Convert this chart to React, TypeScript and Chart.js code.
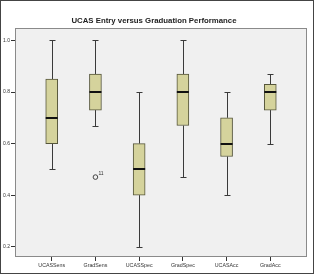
import React, { useEffect, useRef } from "react";
import { Chart, registerables } from "chart.js";

Chart.register(...registerables);

const categories = ["UCASSens", "GradSens", "UCASSpec", "GradSpec", "UCASAcc", "GradAcc"];
const whiskerLow = [0.5, 0.67, 0.2, 0.47, 0.4, 0.6];
const q1 = [0.6, 0.73, 0.4, 0.67, 0.55, 0.73];
const median = [0.7, 0.8, 0.5, 0.8, 0.6, 0.8];
const q3 = [0.85, 0.87, 0.6, 0.87, 0.7, 0.83];
const whiskerHigh = [1.0, 1.0, 0.8, 1.0, 0.8, 0.87];
const outlierCategory = [1];
const outlierValue = [0.47];
const outlierLabel = ["11"];
const yTicks = [0.2, 0.4, 0.6, 0.8, 1.0];

const FONT = "'Liberation Sans', Arial, sans-serif";

const boxPlugin = {
  id: "boxExtras",
  beforeDraw(chart: any) {
    const { ctx, chartArea: a } = chart;
    ctx.save();
    ctx.fillStyle = "#f0f0f0";
    ctx.fillRect(a.left, a.top, a.right - a.left, a.bottom - a.top);
    ctx.restore();
  },
  beforeDatasetsDraw(chart: any) {
    const { ctx, chartArea: a, scales } = chart;
    const xs = scales.x;
    const ys = scales.y;
    ctx.save();
    ctx.strokeStyle = "#8a8a8a";
    ctx.lineWidth = 1;
    ctx.strokeRect(Math.round(a.left) + 0.5, Math.round(a.top) + 0.5, Math.round(a.right - a.left) - 1, Math.round(a.bottom - a.top) - 1);
    ctx.strokeStyle = "#3a3a3a";
    categories.forEach((_, i) => {
      const x = Math.round(xs.getPixelForValue(i + 1)) + 0.5;
      const yLo = ys.getPixelForValue(whiskerLow[i]);
      const yQ1 = ys.getPixelForValue(q1[i]);
      const yQ3 = ys.getPixelForValue(q3[i]);
      const yHi = ys.getPixelForValue(whiskerHigh[i]);
      ctx.beginPath();
      ctx.moveTo(x, yQ1);
      ctx.lineTo(x, Math.round(yLo) + 0.5);
      ctx.moveTo(x, yQ3);
      ctx.lineTo(x, Math.round(yHi) + 0.5);
      ctx.moveTo(x - 3, Math.round(yLo) + 0.5);
      ctx.lineTo(x + 3, Math.round(yLo) + 0.5);
      ctx.moveTo(x - 3, Math.round(yHi) + 0.5);
      ctx.lineTo(x + 3, Math.round(yHi) + 0.5);
      ctx.stroke();
    });
    ctx.restore();
  },
  afterDatasetsDraw(chart: any) {
    const { ctx, scales } = chart;
    const xs = scales.x;
    const ys = scales.y;
    ctx.save();
    ctx.strokeStyle = "#111";
    ctx.lineWidth = 2;
    categories.forEach((_, i) => {
      const x = xs.getPixelForValue(i + 1);
      const y = Math.round(ys.getPixelForValue(median[i]));
      ctx.beginPath();
      ctx.moveTo(x - 6, y);
      ctx.lineTo(x + 6, y);
      ctx.stroke();
    });
    ctx.fillStyle = "#333";
    ctx.font = `5px ${FONT}`;
    ctx.textAlign = "left";
    ctx.textBaseline = "bottom";
    outlierCategory.forEach((c, k) => {
      const x = xs.getPixelForValue(c + 1);
      const y = ys.getPixelForValue(outlierValue[k]);
      ctx.fillText(outlierLabel[k], x + 3, y - 1);
    });
    ctx.restore();
  },
};

export default function App() {
  const ref = useRef<HTMLCanvasElement>(null);
  useEffect(() => {
    document.body.style.margin = "0";
    const chart = new Chart(ref.current!, {
      type: "bar",
      data: {
        datasets: [
          {
            type: "bar",
            data: categories.map((_, i) => ({ x: i + 1, y: [q1[i], q3[i]] })) as any,
            backgroundColor: "#d5d39c",
            borderColor: "#55553a",
            borderWidth: 1,
            borderSkipped: false,
            barThickness: 12,
          } as any,
          {
            type: "scatter",
            data: outlierCategory.map((c, k) => ({ x: c + 1, y: outlierValue[k] })),
            pointRadius: 2.3,
            pointBackgroundColor: "rgba(0,0,0,0)",
            pointBorderColor: "#444",
            pointBorderWidth: 1,
          } as any,
        ],
      },
      options: {
        animation: false,
        responsive: false,
        maintainAspectRatio: false,
        layout: { padding: { left: 0, right: 6, top: 0, bottom: 0 } },
        plugins: {
          legend: { display: false },
          tooltip: { enabled: false },
          title: {
            display: true,
            text: "UCAS Entry versus Graduation Performance",
            color: "#222",
            font: { family: FONT, size: 7.8, weight: "bold" },
            padding: { top: 15, bottom: 3 },
          },
        },
        scales: {
          x: {
            type: "linear",
            offset: false,
            min: 0.16,
            max: 6.84,
            grid: { display: true, offset: false, drawOnChartArea: false, drawTicks: true, tickLength: 4, color: "#333" },
            border: { display: false },
            afterBuildTicks: (s: any) => {
              s.ticks = categories.map((_, i) => ({ value: i + 1 }));
            },
            afterFit: (s: any) => {
              s.height = 16;
            },
            ticks: {
              autoSkip: false,
              maxRotation: 0,
              padding: 1,
              color: "#333",
              font: { family: FONT, size: 5.3 },
              callback: (v: any) => categories[Math.round(v) - 1] ?? "",
            },
          },
          y: {
            type: "linear",
            min: 0.16,
            max: 1.047,
            grid: { display: true, drawOnChartArea: false, drawTicks: true, tickLength: 4, color: "#333" },
            border: { display: false },
            afterBuildTicks: (s: any) => {
              s.ticks = yTicks.map((v) => ({ value: v }));
            },
            afterFit: (s: any) => {
              s.width = 14;
            },
            ticks: {
              padding: 1,
              color: "#333",
              font: { family: FONT, size: 5 },
              callback: (v: any) => Number(v).toFixed(1),
            },
          },
        },
      },
      plugins: [boxPlugin],
    });
    return () => chart.destroy();
  }, []);
  return (
    <div style={{ width: 314, height: 274, boxSizing: "border-box", border: "1px solid #444", background: "#fff" }}>
      <canvas ref={ref} width={312} height={272} style={{ display: "block" }} />
    </div>
  );
}
